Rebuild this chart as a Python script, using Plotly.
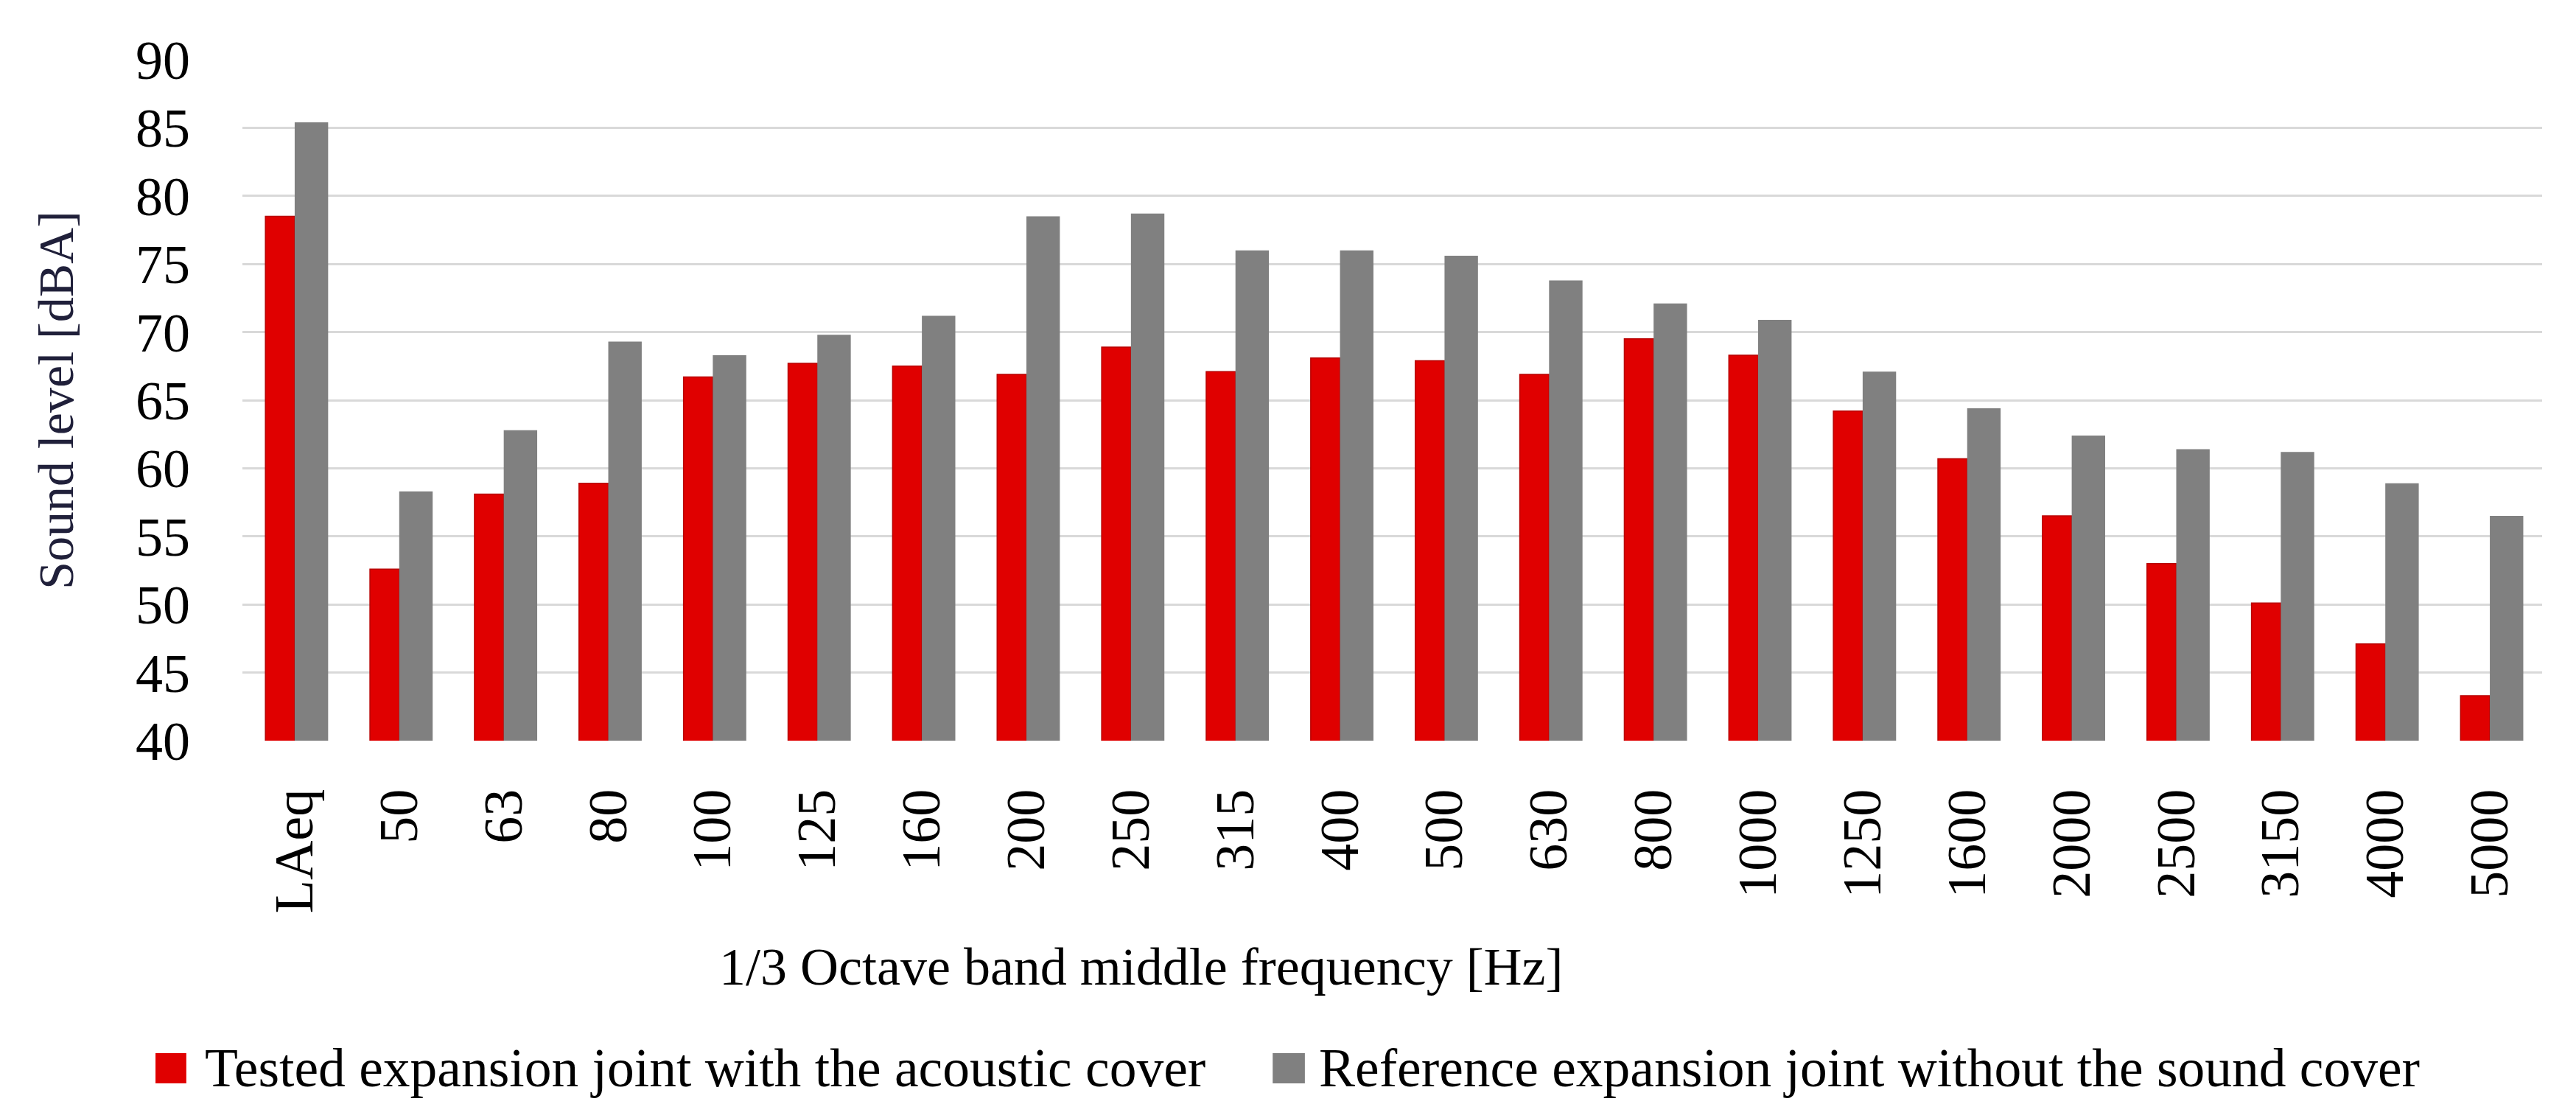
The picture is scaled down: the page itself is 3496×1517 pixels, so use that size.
import plotly.graph_objects as go

bands = ["LAeq", "50", "63", "80", "100", "125", "160", "200", "250", "315", "400",
         "500", "630", "800", "1000", "1250", "1600", "2000", "2500", "3150", "4000", "5000"]
tested = [78.5, 52.6, 58.1, 58.9, 66.7, 67.7, 67.5, 66.9, 68.9, 67.1, 68.1,
          67.9, 66.9, 69.5, 68.3, 64.2, 60.7, 56.5, 53.0, 50.1, 47.1, 43.3]
reference = [85.4, 58.3, 62.8, 69.3, 68.3, 69.8, 71.2, 78.5, 78.7, 76.0, 76.0,
             75.6, 73.8, 72.1, 70.9, 67.1, 64.4, 62.4, 61.4, 61.2, 58.9, 56.5]
y_ticks = [40, 45, 50, 55, 60, 65, 70, 75, 80, 85, 90]

name_tested = "Tested expansion joint with the acoustic cover"
name_reference = "Reference expansion joint without the sound cover"
RED = "#E00000"
GREY = "#808080"
FONT = "Liberation Serif"

fig = go.Figure()
fig.add_trace(go.Bar(
    x=bands, y=tested, name=name_tested, offset=-0.28, width=0.28,
    marker=dict(color=RED, line=dict(color="#B80000", width=1.5)),
    showlegend=False,
))
fig.add_trace(go.Bar(
    x=bands, y=reference, name=name_reference, offset=0.0, width=0.32,
    marker=dict(color=GREY, line=dict(width=0)),
    showlegend=False,
))

# legend drawn as keys + text (Excel-style large square keys)
leg_y = -0.4816
legend_items = [
    (RED, -0.0378, -0.0244, -0.0170, name_tested),
    (GREY, 0.4480, 0.4620, 0.4675, name_reference),
]
shapes = []
annotations = []
for color, x0, x1, xt, label in legend_items:
    shapes.append(dict(type="rect", xref="paper", yref="paper",
                       x0=x0, x1=x1, y0=-0.4589, y1=-0.5032,
                       fillcolor=color, line=dict(width=0)))
    annotations.append(dict(text=label, xref="paper", yref="paper", x=xt, y=leg_y,
                            xanchor="left", yanchor="middle", showarrow=False,
                            font=dict(family=FONT, size=73.5, color="black")))

annotations.append(dict(
    text="1/3 Octave band middle frequency [Hz]",
    xref="paper", yref="paper", x=0.391, y=-0.332,
    xanchor="center", yanchor="middle", showarrow=False,
    font=dict(family=FONT, size=72, color="black"),
))

fig.update_layout(
    width=3496, height=1517,
    margin=dict(l=321, r=54, t=73, b=520),
    paper_bgcolor="white", plot_bgcolor="white",
    font=dict(family=FONT, size=74, color="black"),
    barmode="overlay",
    showlegend=False,
    shapes=shapes,
    annotations=annotations,
)

fig.update_xaxes(
    type="category", tickangle=-90, showgrid=False, showline=False,
    ticks="", ticklabelstandoff=50,
    tickfont=dict(family=FONT, size=74, color="black"),
)
fig.update_yaxes(
    range=[40, 90], tickvals=y_ticks, showgrid=True, gridcolor="#D9D9D9", gridwidth=3,
    zeroline=False, showline=False, ticks="", ticklabelstandoff=70,
    tickfont=dict(family=FONT, size=74, color="black"),
    title=dict(text="Sound level [dBA]", standoff=62,
               font=dict(family=FONT, size=68, color="#20203A")),
)

fig.write_html("out.html")
